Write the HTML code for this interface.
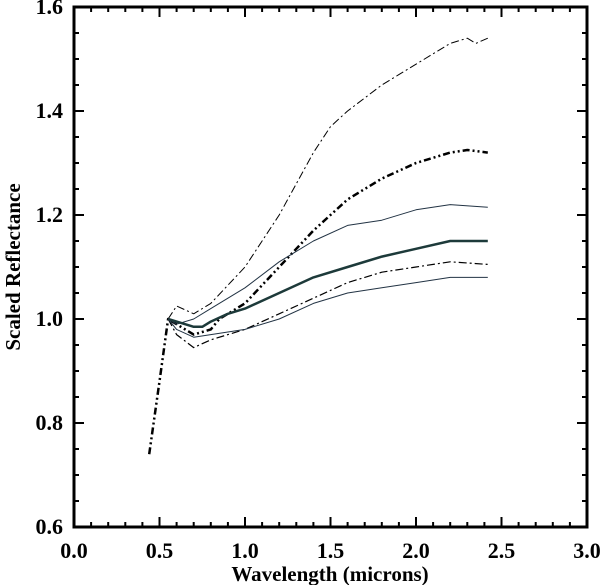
<!DOCTYPE html>
<html><head><meta charset="utf-8">
<style>body{margin:0;background:#fff}svg{display:block}text{font-family:"Liberation Serif",serif;font-weight:bold;fill:#000}</style>
</head><body>
<svg id="chart" width="600" height="585" viewBox="0 0 600 585"></svg>
<script>
const xTicks=[0.0,0.5,1.0,1.5,2.0,2.5,3.0];
const xTickLabels=["0.0","0.5","1.0","1.5","2.0","2.5","3.0"];
const yTicks=[0.6,0.8,1.0,1.2,1.4,1.6];
const yTickLabels=["0.6","0.8","1.0","1.2","1.4","1.6"];
const seriesNames=["dashdot-high","thick-dashdotdot","thin-solid-upper","thick-solid","dashdot-low","thin-solid-lower"];
const xA=[0.55,0.6,0.7,0.8,1.0,1.2,1.4,1.5,1.6,1.8,1.9,2.0,2.2,2.3,2.35,2.42];
const yA=[1.0,1.025,1.01,1.03,1.10,1.20,1.32,1.37,1.40,1.45,1.47,1.49,1.53,1.54,1.53,1.54];
const xB=[0.44,0.5,0.55,0.6,0.7,0.8,0.85,0.9,1.0,1.2,1.4,1.6,1.8,2.0,2.2,2.3,2.42];
const yB=[0.74,0.88,1.0,0.99,0.97,0.98,1.0,1.01,1.03,1.10,1.17,1.23,1.27,1.30,1.32,1.325,1.32];
const xC=[0.55,0.6,0.7,0.8,1.0,1.2,1.4,1.6,1.8,2.0,2.2,2.42];
const yC=[1.0,0.99,1.0,1.02,1.06,1.11,1.15,1.18,1.19,1.21,1.22,1.215];
const xD=[0.55,0.6,0.7,0.75,0.8,0.9,1.0,1.2,1.4,1.6,1.8,2.0,2.2,2.42];
const yD=[1.0,0.995,0.985,0.985,0.995,1.01,1.02,1.05,1.08,1.10,1.12,1.135,1.15,1.15];
const xE=[0.55,0.6,0.7,0.8,0.9,1.0,1.2,1.4,1.6,1.8,2.0,2.2,2.42];
const yE=[1.0,0.97,0.945,0.96,0.97,0.98,1.01,1.04,1.07,1.09,1.10,1.11,1.105];
const xF=[0.55,0.6,0.7,0.8,1.0,1.2,1.4,1.6,1.8,2.0,2.2,2.42];
const yF=[1.0,0.98,0.965,0.97,0.98,1.0,1.03,1.05,1.06,1.07,1.08,1.08];

const L=74,R=587,T=7,B=527;
const sx=v=>L+(v-0)/3*(R-L);
const sy=v=>B-(v-0.6)/1.0*(B-T);
const svg=document.getElementById('chart');
const NS='http://www.w3.org/2000/svg';
function mk(t,a){const e=document.createElementNS(NS,t);for(const k in a)e.setAttribute(k,a[k]);svg.appendChild(e);return e;}

const frame=mk('rect',{x:L,y:T,width:R-L,height:B-T,fill:'none',stroke:'#000','stroke-width':3});



for(let i=0;i<=30;i++){const v=i*0.1;const major=i%5===0;const len=major?10:5;const x=sx(v);
 const t1=mk('line',{x1:x,y1:B,x2:x,y2:B-len,stroke:'#000','stroke-width':2});
 
 
 const t2=mk('line',{x1:x,y1:T,x2:x,y2:T+len,stroke:'#000','stroke-width':2});
 
 }
for(let i=0;i<=20;i++){const v=0.6+i*0.05;const major=i%4===0;const len=major?10:5;const y=sy(v);
 const t1=mk('line',{x1:L,y1:y,x2:L+len,y2:y,stroke:'#000','stroke-width':2});
 
 
 const t2=mk('line',{x1:R,y1:y,x2:R-len,y2:y,stroke:'#000','stroke-width':2});
 
 }
xTicks.forEach((v,i)=>{const t=mk('text',{x:sx(v),y:558,'text-anchor':'middle','font-size':22});t.textContent=xTickLabels[i];
 
 });
yTicks.forEach((v,i)=>{const t=mk('text',{x:63,y:sy(v)+7,'text-anchor':'end','font-size':22});t.textContent=yTickLabels[i];
 
 });
const xt=mk('text',{x:330,y:581,'text-anchor':'middle','font-size':21});xt.textContent='Wavelength (microns)';


const yt=mk('text',{x:20,y:267,'text-anchor':'middle','font-size':21,transform:'rotate(-90 20 267)'});yt.textContent='Scaled Reflectance';



const styles=[
 {xs:xA,ys:yA,w:1,c:'#000',d:'8 3 2 3'},
 {xs:xB,ys:yB,w:2.5,c:'#000',d:'7 3 2 3 2 3'},
 {xs:xC,ys:yC,w:1,c:'#234',d:''},
 {xs:xD,ys:yD,w:2.5,c:'#1d3a3a',d:''},
 {xs:xE,ys:yE,w:1.2,c:'#000',d:'8 3 2 3'},
 {xs:xF,ys:yF,w:1,c:'#234',d:''}];
styles.forEach((s,i)=>{let d='';s.xs.forEach((x,j)=>{d+=(j?'L':'M')+sx(x).toFixed(1)+','+sy(s.ys[j]).toFixed(1);});
 const p=mk('path',{d:d,fill:'none',stroke:s.c,'stroke-width':s.w,'stroke-dasharray':s.d,'stroke-linejoin':'round'});
 
 });
</script>
</body></html>
